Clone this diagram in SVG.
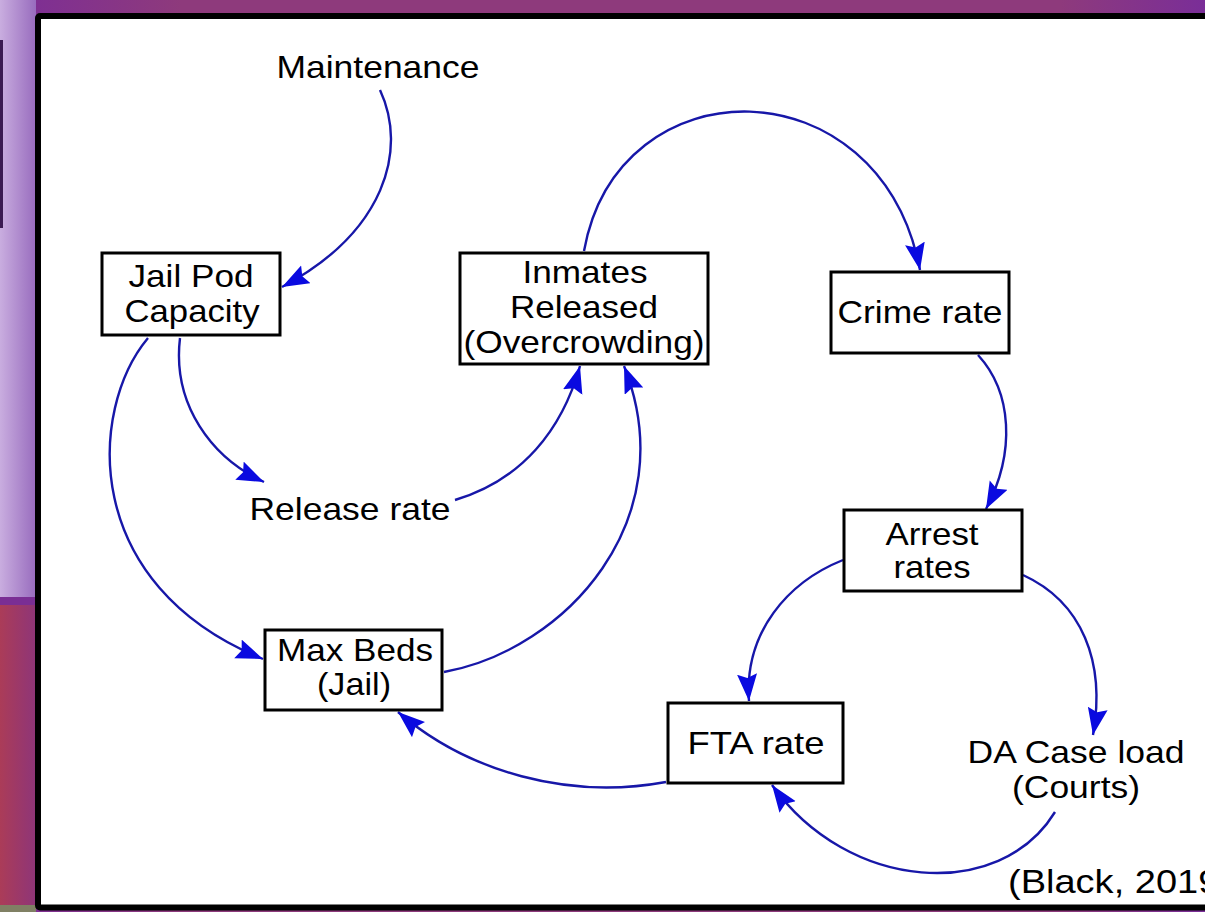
<svg xmlns="http://www.w3.org/2000/svg" width="1205" height="912" viewBox="0 0 1205 912">
<defs>
<linearGradient id="topband" x1="0" y1="0" x2="1" y2="0">
<stop offset="0" stop-color="#7b2d98"/>
<stop offset="0.15" stop-color="#8e3a7c"/>
<stop offset="0.88" stop-color="#8e3a7c"/>
<stop offset="1" stop-color="#7a2e98"/>
</linearGradient>
<linearGradient id="leftup" x1="0" y1="0" x2="1" y2="0">
<stop offset="0" stop-color="#c9addf"/>
<stop offset="1" stop-color="#986cbe"/>
</linearGradient>
<linearGradient id="leftdown" x1="0" y1="0" x2="1" y2="0">
<stop offset="0" stop-color="#ab3c58"/>
<stop offset="1" stop-color="#8e3578"/>
</linearGradient>
<marker id="arr" markerUnits="userSpaceOnUse" markerWidth="30" markerHeight="22" refX="27" refY="10" orient="auto">
<path d="M0,0 L27,10 L0,20 L4,10 z" fill="#0a0ae0"/>
</marker>
<style>
.lbl{font-family:"Liberation Sans",Arial,sans-serif;font-size:32px;fill:#000;text-anchor:middle}
.box{fill:#fff;stroke:#000;stroke-width:3}
.con{fill:none;stroke:#1717a8;stroke-width:2.4;marker-end:url(#arr)}
</style>
</defs>
<rect x="0" y="0" width="1205" height="912" fill="url(#topband)"/>
<rect x="0" y="0" width="36" height="597" fill="url(#leftup)"/>
<rect x="0" y="40" width="3" height="188" fill="#3b1a52"/>
<rect x="0" y="597" width="36" height="8" fill="#7a2e94"/>
<rect x="0" y="605" width="36" height="300" fill="url(#leftdown)"/>
<rect x="0" y="905" width="36" height="7" fill="#808064"/>
<rect x="38" y="16" width="1200" height="891.5" rx="2" fill="#fff" stroke="#000" stroke-width="6"/>

<g id="connectors">
<path class="con" d="M 380 90 C 408 150, 385 232, 282 287"/>
<path class="con" d="M 180 338 C 172 405, 212 458, 264 482"/>
<path class="con" d="M 148 338 C 88 410, 80 585, 263 659"/>
<path class="con" d="M 455 500 C 522 480, 562 430, 580 366"/>
<path class="con" d="M 444 672 C 565 650, 685 520, 624 366"/>
<path class="con" d="M 584 251 C 618 62, 880 62, 920 270"/>
<path class="con" d="M 978 355 C 1012 392, 1016 452, 986 509"/>
<path class="con" d="M 843 560 C 788 582, 744 632, 749 701"/>
<path class="con" d="M 1023 575 C 1082 602, 1106 662, 1093 735"/>
<path class="con" d="M 1055 812 C 1000 902, 848 892, 772 785"/>
<path class="con" d="M 666 782 C 568 800, 468 772, 398 712"/>
</g>

<g id="maintenance">
<text class="lbl" x="378" y="78" textLength="203" lengthAdjust="spacingAndGlyphs">Maintenance</text>
</g>
<g id="jail-pod-capacity">
<rect class="box" x="102" y="253" width="178" height="82"/>
<text class="lbl" x="191" y="287" textLength="125" lengthAdjust="spacingAndGlyphs">Jail Pod</text>
<text class="lbl" x="192" y="322" textLength="135" lengthAdjust="spacingAndGlyphs">Capacity</text>
</g>
<g id="inmates-released">
<rect class="box" x="460" y="253" width="248" height="111"/>
<text class="lbl" x="585" y="283" textLength="125" lengthAdjust="spacingAndGlyphs">Inmates</text>
<text class="lbl" x="584" y="318" textLength="148" lengthAdjust="spacingAndGlyphs">Released</text>
<text class="lbl" x="584" y="353" textLength="241" lengthAdjust="spacingAndGlyphs">(Overcrowding)</text>
</g>
<g id="crime-rate">
<rect class="box" x="831" y="272" width="178" height="81"/>
<text class="lbl" x="920" y="323" textLength="165" lengthAdjust="spacingAndGlyphs">Crime rate</text>
</g>
<g id="arrest-rates">
<rect class="box" x="844" y="510" width="178" height="81"/>
<text class="lbl" x="932" y="545" textLength="93" lengthAdjust="spacingAndGlyphs">Arrest</text>
<text class="lbl" x="932" y="578" textLength="77" lengthAdjust="spacingAndGlyphs">rates</text>
</g>
<g id="release-rate">
<text class="lbl" x="350" y="520" textLength="201" lengthAdjust="spacingAndGlyphs">Release rate</text>
</g>
<g id="max-beds">
<rect class="box" x="265" y="630" width="177" height="80"/>
<text class="lbl" x="355" y="661" textLength="156" lengthAdjust="spacingAndGlyphs">Max Beds</text>
<text class="lbl" x="354" y="695" textLength="74" lengthAdjust="spacingAndGlyphs">(Jail)</text>
</g>
<g id="fta-rate">
<rect class="box" x="668" y="703" width="175" height="80"/>
<text class="lbl" x="756" y="754" textLength="137" lengthAdjust="spacingAndGlyphs">FTA rate</text>
</g>
<g id="da-case-load">
<text class="lbl" x="1076" y="763" textLength="217" lengthAdjust="spacingAndGlyphs">DA Case load</text>
<text class="lbl" x="1076" y="798" textLength="128" lengthAdjust="spacingAndGlyphs">(Courts)</text>
</g>
<g id="citation">
<text class="lbl" x="1008" y="893" style="text-anchor:start;font-size:34px" textLength="224" lengthAdjust="spacingAndGlyphs">(Black, 2019)</text>
</g>
</svg>
